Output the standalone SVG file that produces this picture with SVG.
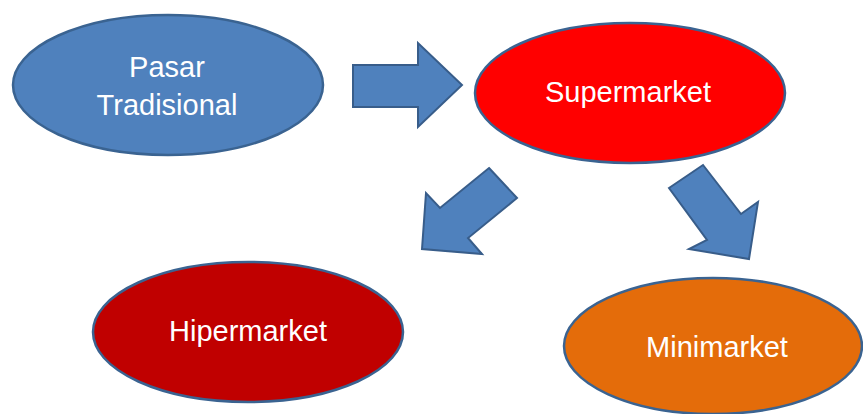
<svg xmlns="http://www.w3.org/2000/svg" width="863" height="414" viewBox="0 0 863 414">
<style>
.node{stroke:#3A6391;stroke-width:2.5}
.arrow{fill:#4F81BD;stroke:#385D8A;stroke-width:2;stroke-linejoin:miter}
.lbl{font-family:"Liberation Sans",Arial,sans-serif;font-size:29px;fill:#FFFFFF;text-anchor:middle}
</style>
<rect width="863" height="414" fill="#FFFFFF"/>
<g id="connectors">
<polygon class="arrow" points="353,65 418,65 418,43 462,85 418,127 418,107 353,107"/>
<polygon class="arrow" points="489,168 517,198 468,238 482,254 422,249 426,193 440,208"/>
<polygon class="arrow" points="669,188 703,165 741,214 758,202 749,259 689,249 707,240"/>
</g>
<g id="pasar">
<ellipse class="node" cx="168" cy="85" rx="155" ry="70" fill="#4F81BD"/>
<text class="lbl" x="167" y="77">Pasar</text>
<text class="lbl" x="167" y="115">Tradisional</text>
</g>
<g id="supermarket">
<ellipse class="node" cx="630" cy="93" rx="155" ry="70" fill="#FF0000"/>
<text class="lbl" x="628" y="102">Supermarket</text>
</g>
<g id="hipermarket">
<ellipse class="node" cx="248" cy="332" rx="155" ry="70" fill="#C00000"/>
<text class="lbl" x="248" y="341">Hipermarket</text>
</g>
<g id="minimarket">
<ellipse class="node" cx="713" cy="346" rx="149" ry="68" fill="#E46C0A"/>
<text class="lbl" x="717" y="357">Minimarket</text>
</g>
</svg>
